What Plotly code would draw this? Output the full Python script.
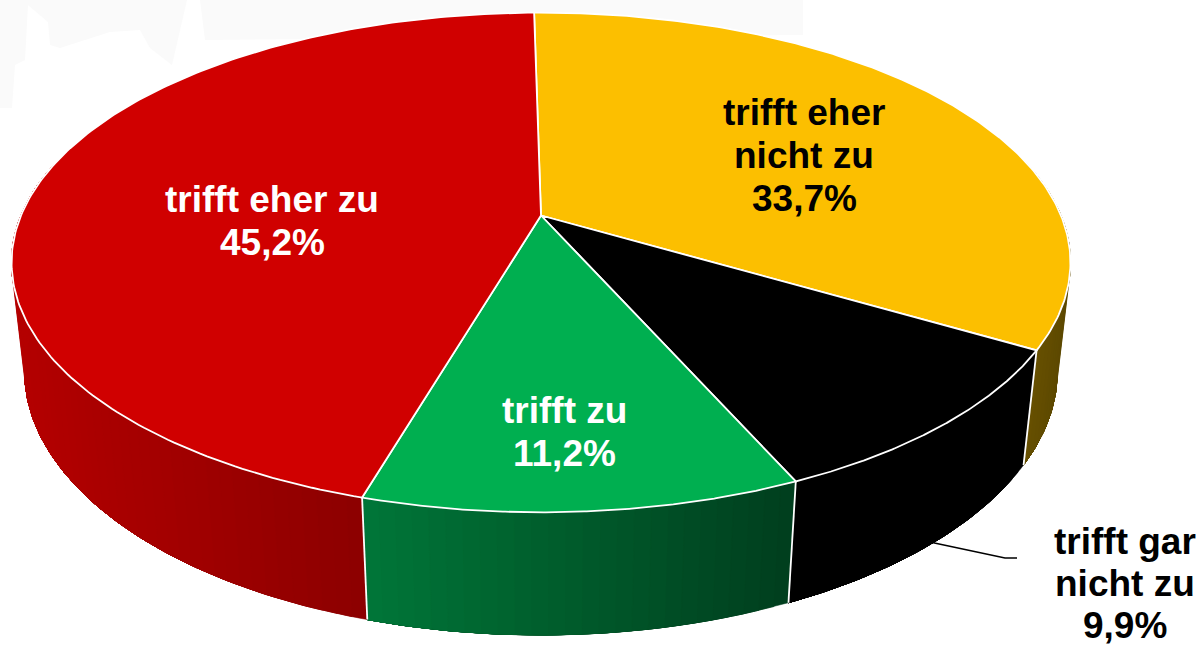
import numpy as np
import plotly.graph_objects as go

# Data
categories = ["trifft eher nicht zu", "trifft gar nicht zu", "trifft zu", "trifft eher zu"]
values = [33.7, 9.9, 11.2, 45.2]
value_labels = ["33,7%", "9,9%", "11,2%", "45,2%"]
name_lines = [["trifft eher", "nicht zu"], ["trifft gar", "nicht zu"], ["trifft zu"], ["trifft eher zu"]]

# Styles
top_colors = ["#FCBF00", "#000000", "#00AF50", "#D00000"]
side_left = [(108, 84, 0), (0, 0, 0), (0, 118, 56), (180, 0, 0)]
side_right = [(92, 72, 0), (0, 0, 0), (0, 62, 30), (140, 0, 0)]
label_colors = ["black", "black", "white", "white"]
label_x = [804, 1125, 564, 272]
label_top_y = [112, 541, 410, 199]
label_gap = [43.3, 42.0, 43.3, 43.3]
FONT_SIZE = 37

# Projection of the tilted disc
CX, CY, A, B, K = 541.0, 215.5, 520.0, 241.0, 0.188
VY, HE = 4700.0, 0.0245
START = -0.9
VIS_FROM, VIS_TO = 75.0, 285.0


def top(deg):
    t = np.radians(deg)
    X, Y = np.sin(t), -np.cos(t)
    w = 1 - K * Y
    return CX + A * X / w, CY + B * Y / w, w


def bottom(deg):
    x, y, w = top(deg)
    s = w / (w + HE)
    return CX + (x - CX) * s, VY + (y - VY) * s


fig = go.Figure()


def poly(x, y, fill):
    fig.add_trace(go.Scatter(x=x, y=y, mode="lines", fill="toself", fillcolor=fill,
                             line=dict(color=fill, width=0.5),
                             hoverinfo="skip", showlegend=False))


edges = START + np.concatenate([[0], np.cumsum(values)]) * 3.6

# Faint backdrop behind the pie
for path in [
    "M0,0 L187,0 L172,65 L150,48 L140,30 L110,32 L85,40 L60,48 L50,45 L48,22 L28,5 L25,60 L15,65 L12,108 L0,108 Z",
    "M200,0 L803,0 L803,35 L205,40 Z",
]:
    fig.add_shape(type="path", path=path, fillcolor="#FAFAFA", line_width=0, layer="below")

# Leader line, below the side wall
fig.add_trace(go.Scatter(x=[925, 1005, 1017], y=[541, 558, 558], mode="lines",
                         line=dict(color="black", width=1.5), hoverinfo="skip", showlegend=False))

# Side walls: each band runs to the slice end and the next one paints over it, so no seams show
for i in range(len(values)):
    a0, a1 = edges[i], edges[i + 1]
    lo, hi = max(a0, VIS_FROM), min(a1, VIS_TO)
    if hi <= lo:
        continue
    n = max(2, int((hi - lo) / 1.5))
    grid = np.linspace(lo, hi, n + 1)
    xs = top(grid)[0]
    xmin, xmax = xs.min(), xs.max()
    for j in range(n):
        g = np.linspace(grid[j], hi, max(3, 2 * (n - j)))
        tx, ty, _ = top(g)
        bx, by = bottom(g)
        mid = top((grid[j] + grid[j + 1]) / 2)[0]
        f = (mid - xmin) / (xmax - xmin)
        c = [round(l + (r - l) * f) for l, r in zip(side_left[i], side_right[i])]
        poly(np.r_[tx, bx[::-1], tx[0]], np.r_[ty, by[::-1], ty[0]], "rgb(%d,%d,%d)" % tuple(c))

# White edges between walls at the slice boundaries
for e in edges[1:-1]:
    if VIS_FROM < e < VIS_TO:
        tx, ty, _ = top(e)
        bx, by = bottom(e)
        fig.add_trace(go.Scatter(x=[tx, bx], y=[ty, by], mode="lines",
                                 line=dict(color="white", width=1.8),
                                 hoverinfo="skip", showlegend=False))

# Top faces
for i in range(len(values)):
    g = np.linspace(edges[i], edges[i + 1], 200)
    tx, ty, _ = top(g)
    fig.add_trace(go.Scatter(x=np.r_[CX, tx, CX], y=np.r_[CY, ty, CY], mode="lines", fill="toself",
                             fillcolor=top_colors[i], line=dict(color="white", width=1.8),
                             hoverinfo="skip", showlegend=False))

# Labels, line by line
for i in range(len(values)):
    for k, line in enumerate(name_lines[i] + [value_labels[i]]):
        fig.add_annotation(x=label_x[i], y=label_top_y[i] + k * label_gap[i], text="<b>%s</b>" % line,
                           showarrow=False, align="center", xanchor="center", yanchor="middle",
                           font=dict(family="Liberation Sans", size=FONT_SIZE, color=label_colors[i]))

fig.update_layout(width=1198, height=645, margin=dict(l=0, r=0, t=0, b=0),
                  paper_bgcolor="white", plot_bgcolor="rgba(0,0,0,0)", showlegend=False)
fig.update_xaxes(range=[0, 1198], visible=False, fixedrange=True)
fig.update_yaxes(range=[645, 0], visible=False, fixedrange=True)
fig.write_html("out.html", post_script="document.body.style.margin='0';", config={"displayModeBar": False})
